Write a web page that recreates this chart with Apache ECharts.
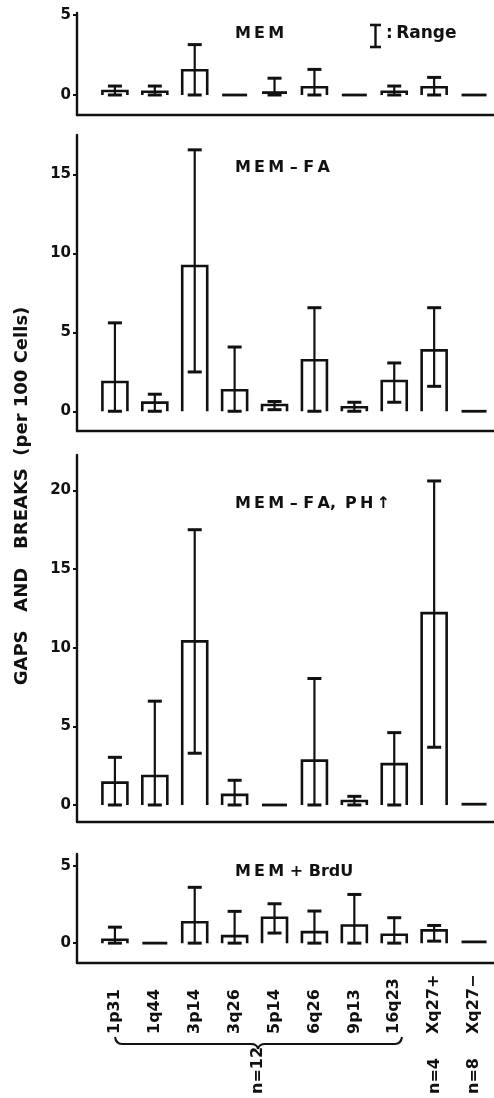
<!DOCTYPE html>
<html>
<head>
<meta charset="utf-8">
<script src="https://cdn.jsdelivr.net/npm/echarts@6/dist/echarts.min.js"></script>
<style>
html,body{margin:0;padding:0;background:#fff;}
#chart{width:494px;height:1098px;}
</style>
</head>
<body>
<div id="chart"></div>
<script>
const categories = ['1p31','1q44','3p14','3q26','5p14','6q26','9p13','16q23','Xq27+','Xq27\u2212'];

const memMean = [0.25, 0.2, 1.55, 0, 0.15, 0.48, 0, 0.2, 0.48, 0];
const memLow  = [0, 0, 0, 0, 0, 0, 0, 0, 0, 0];
const memHigh = [0.56, 0.56, 3.15, 0, 1.05, 1.6, 0, 0.56, 1.1, 0];

const faMean = [1.85, 0.55, 9.2, 1.33, 0.4, 3.23, 0.25, 1.92, 3.86, 0];
const faLow  = [0, 0, 2.49, 0, 0.1, 0, 0, 0.57, 1.58, 0];
const faHigh = [5.6, 1.08, 16.56, 4.07, 0.62, 6.56, 0.57, 3.06, 6.56, 0];

const phMean = [1.42, 1.84, 10.4, 0.64, 0, 2.82, 0.25, 2.6, 12.2, 0.05];
const phLow  = [0, 0, 3.29, 0, 0, 0, 0, 0, 3.67, 0];
const phHigh = [3.03, 6.6, 17.5, 1.57, 0, 8.04, 0.55, 4.6, 20.6, 0];

const brdMean = [0.22, 0, 1.35, 0.45, 1.64, 0.71, 1.14, 0.54, 0.82, 0.08];
const brdLow  = [0, 0, 0, 0, 0.65, 0, 0, 0, 0.13, 0];
const brdHigh = [1.03, 0, 3.6, 2.05, 2.54, 2.07, 3.14, 1.64, 1.14, 0];

const T = '\u2009';
const panelTitles = ['M'+T+'E'+T+'M', 'M'+T+'E'+T+'M \u2013 F'+T+'A', 'M'+T+'E'+T+'M \u2013 F'+T+'A,'+T+' P'+T+'H'+T+'\u2191', 'M'+T+'E'+T+'M + BrdU'];
const yTicks = [[0, 5], [0, 5, 10, 15], [0, 5, 10, 15, 20], [0, 5]];
const groupLabels = ['n=12', 'n=4', 'n=8'];

const INK = '#111';
const FONT = '"DejaVu Sans", "Liberation Sans", Arial, sans-serif';

const panels = [
  {mean: memMean, low: memLow, high: memHigh, min: -1.25, max: 5.125, top: 13, height: 102},
  {mean: faMean, low: faLow, high: faHigh, min: -1.25, max: 17.5, top: 135, height: 296},
  {mean: phMean, low: phLow, high: phHigh, min: -1.05, max: 22.25, top: 455, height: 366.5},
  {mean: brdMean, low: brdLow, high: brdHigh, min: -1.25, max: 5.75, top: 854, height: 108.5}
];

function renderItem(params, api) {
  const x = api.value(0), m = api.value(1), lo = api.value(2), hi = api.value(3);
  const p0 = api.coord([x, 0]);
  const pm = api.coord([x, m]);
  const hw = 12.5, cw = 7;
  const children = [];
  if (pm[1] < p0[1] - 2.5) {
    children.push({type: 'polyline', shape: {points: [[p0[0]-hw, p0[1]], [p0[0]-hw, pm[1]], [p0[0]+hw, pm[1]], [p0[0]+hw, p0[1]]]},
      style: {stroke: INK, lineWidth: 2.6, fill: null}});
  } else {
    children.push({type: 'line', shape: {x1: p0[0]-hw, y1: pm[1], x2: p0[0]+hw, y2: pm[1]},
      style: {stroke: INK, lineWidth: 2.8}});
  }
  if (hi > m) {
    const ph = api.coord([x, hi]);
    const pl = api.coord([x, lo]);
    children.push({type: 'line', shape: {x1: ph[0], y1: ph[1], x2: pl[0], y2: pl[1]}, style: {stroke: INK, lineWidth: 2.2}});
    children.push({type: 'line', shape: {x1: ph[0]-cw, y1: ph[1], x2: ph[0]+cw, y2: ph[1]}, style: {stroke: INK, lineWidth: 3}});
    children.push({type: 'line', shape: {x1: pl[0]-cw, y1: pl[1], x2: pl[0]+cw, y2: pl[1]}, style: {stroke: INK, lineWidth: 3}});
  }
  return {type: 'group', children: children};
}

const grids = [], xAxes = [], yAxes = [], series = [];
panels.forEach((p, k) => {
  grids.push({left: 77, right: 0, top: p.top, height: p.height, containLabel: false});
  xAxes.push({type: 'value', gridIndex: k, min: -0.95, max: 9.5,
    axisLine: {show: true, onZero: false, lineStyle: {color: INK, width: 2.4}},
    axisTick: {show: false}, axisLabel: {show: false}, splitLine: {show: false}});
  yAxes.push({type: 'value', gridIndex: k, min: p.min, max: p.max,
    axisLine: {show: true, onZero: false, lineStyle: {color: INK, width: 2.4}},
    axisTick: {show: true, length: 4, customValues: yTicks[k], lineStyle: {color: INK, width: 2}},
    axisLabel: {show: true, margin: 6, customValues: yTicks[k], color: INK, fontFamily: FONT, fontWeight: 'bold', fontSize: 15},
    splitLine: {show: false}});
  series.push({type: 'custom', name: panelTitles[k], xAxisIndex: k, yAxisIndex: k, renderItem: renderItem,
    encode: {x: 0, y: 1},
    data: categories.map((c, i) => [i, p.mean[i], p.low[i], p.high[i]])});
});

// category label axis
grids.push({left: 95, right: 0, top: 1035, height: 5});
xAxes.push({type: 'category', gridIndex: 4, position: 'top', data: categories,
  axisLine: {show: false}, axisTick: {show: false},
  axisLabel: {show: true, interval: 0, rotate: 90, margin: 1, color: INK, fontFamily: FONT, fontWeight: 'bold', fontSize: 16}});
yAxes.push({type: 'value', gridIndex: 4, show: false});

const titleY = [34, 167.5, 504, 872];
const graphic = panelTitles.map((t, k) => ({
  type: 'text', x: 235, y: titleY[k],
  style: {text: t, fill: INK, font: 'bold 16px ' + FONT, textAlign: 'left', textVerticalAlign: 'middle'}
}));
// range key: I-beam glyph + text
const keyStyle = {stroke: INK, lineWidth: 2.4};
graphic.push({type: 'line', shape: {x1: 375.5, y1: 25, x2: 375.5, y2: 47}, style: keyStyle});
graphic.push({type: 'line', shape: {x1: 370, y1: 25, x2: 381, y2: 25}, style: {stroke: INK, lineWidth: 2.6}});
graphic.push({type: 'line', shape: {x1: 370, y1: 47, x2: 381, y2: 47}, style: {stroke: INK, lineWidth: 2.6}});
graphic.push({type: 'text', x: 386, y: 34,
  style: {text: ':' + T + 'Range', fill: INK, font: 'bold 17px ' + FONT, textAlign: 'left', textVerticalAlign: 'middle'}});
graphic.push({type: 'text', x: 22, y: 496, rotation: Math.PI / 2,
  style: {text: 'GAPS   AND   BREAKS  (per 100 Cells)', fill: INK, font: 'bold 18px ' + FONT, textAlign: 'center', textVerticalAlign: 'middle'}});
// brace under the autosomal group
const braceStyle = {stroke: INK, lineWidth: 2, fill: null};
graphic.push({type: 'bezierCurve', shape: {x1: 115, y1: 1037, cpx1: 116, cpy1: 1044, x2: 122, y2: 1044}, style: braceStyle});
graphic.push({type: 'line', shape: {x1: 122, y1: 1044, x2: 251, y2: 1044}, style: braceStyle});
graphic.push({type: 'bezierCurve', shape: {x1: 251, y1: 1044, cpx1: 257, cpy1: 1044, x2: 258, y2: 1049}, style: braceStyle});
graphic.push({type: 'bezierCurve', shape: {x1: 258, y1: 1049, cpx1: 259, cpy1: 1044, x2: 265, y2: 1044}, style: braceStyle});
graphic.push({type: 'line', shape: {x1: 265, y1: 1044, x2: 395, y2: 1044}, style: braceStyle});
graphic.push({type: 'bezierCurve', shape: {x1: 395, y1: 1044, cpx1: 401, cpy1: 1044, x2: 402, y2: 1037}, style: braceStyle});
const gx = [258, 435, 474];
groupLabels.forEach((t, i) => {
  graphic.push({type: 'text', x: gx[i], y: 1094, rotation: Math.PI / 2,
    style: {text: t, fill: INK, font: 'bold 16px ' + FONT, textAlign: 'left', textVerticalAlign: 'middle'}});
});

const chart = echarts.init(document.getElementById('chart'), null, {renderer: 'canvas'});
chart.setOption({
  animation: false,
  backgroundColor: '#fff',
  grid: grids, xAxis: xAxes, yAxis: yAxes, series: series, graphic: graphic
});
</script>
</body>
</html>
